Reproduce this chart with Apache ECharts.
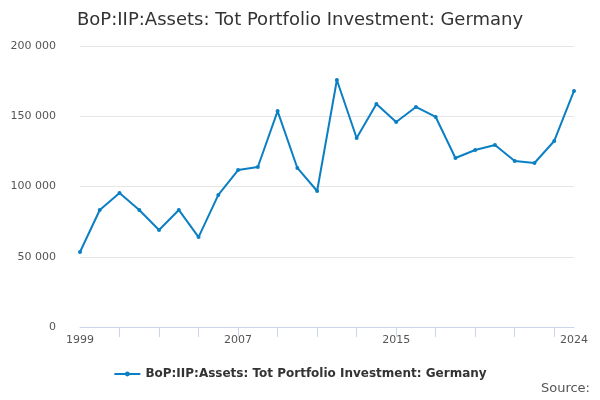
<!DOCTYPE html>
<html><head><meta charset="utf-8">
<script src="https://cdn.jsdelivr.net/npm/echarts@6/dist/echarts.min.js"></script>
<style>body{margin:0}#c{width:600px;height:400px}</style></head>
<body><div id="c"></div>
<script>
const years = ['1999','2000','2001','2002','2003','2004','2005','2006','2007','2008','2009','2010','2011','2012','2013','2014','2015','2016','2017','2018','2019','2020','2021','2022','2023','2024'];
const values = [53400,83300,95400,83300,69000,83300,64000,94000,111700,113900,153700,113200,96800,175800,134500,158700,145900,156600,149500,120300,126000,129500,118100,116700,132400,168000];
const shownLabels = ['1999','2007','2015','2024'];
const seriesName = 'BoP:IIP:Assets: Tot Portfolio Investment: Germany';
const chart = echarts.init(document.getElementById('c'));
chart.setOption({
  textStyle:{fontFamily:'DejaVu Sans'},
  title:{text:seriesName,left:72,top:6,textStyle:{fontSize:18,fontWeight:'normal',color:'#333',fontFamily:'DejaVu Sans'}},
  grid:{left:80,right:26,top:46,bottom:73},
  legend:{bottom:15,left:'center',itemWidth:26,itemHeight:6,textStyle:{fontSize:12,fontWeight:'bold',color:'#333'},data:[seriesName]},
  graphic:[{type:'text',right:10,bottom:5,style:{text:'Source:',fontSize:13,fill:'#555',fontFamily:'DejaVu Sans'}}],
  xAxis:{type:'category',data:years,boundaryGap:false,
    axisLine:{lineStyle:{color:'#ccd6eb'}},
    axisTick:{interval:(i)=>i%2===0 && i>0,length:10,lineStyle:{color:'#ccd6eb'}},
    axisLabel:{interval:0,color:'#555',fontSize:11,formatter:v=>shownLabels.includes(v)?v:''}},
  yAxis:{type:'value',min:0,max:200000,interval:50000,
    axisLabel:{color:'#555',fontSize:11,margin:24,formatter:v=>v===0?'0':(v/1000)+' 000'},
    splitLine:{lineStyle:{color:'#e6e6e6'}}},
  series:[{name:seriesName,type:'line',data:values,color:'#0b7fc4',symbol:'circle',symbolSize:4,lineStyle:{width:2}}]
});
</script></body></html>
